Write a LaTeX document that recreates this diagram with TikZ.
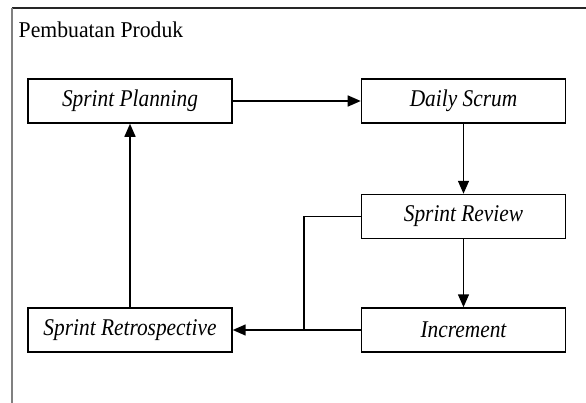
\documentclass[tikz,border=0pt]{standalone}
\usepackage{fontspec}
\setmainfont{Liberation Serif}
\usetikzlibrary{arrows.meta,positioning}

\begin{document}
\begin{tikzpicture}[->,>={Triangle[length=6.5pt,width=5.5pt]},x=0.5pt,y=-0.5pt,
                    line width=0.75pt]
  \tikzset{phase/.style={draw=black,fill=white,text=black,minimum width=102pt,
                         minimum height=22pt,inner sep=0pt,
                         font=\fontsize{12}{14}\selectfont\itshape\addfontfeature{FakeStretch=0.89}}}
  \useasboundingbox (0,0) rectangle (586,403);

  % frame of the activity
  \draw[-,black!85,line width=0.6pt] (12,8) -- (586,8);
  \draw[-,black!50,line width=0.9pt] (12,8) -- (12,403);
  \node[anchor=base west,inner sep=0pt,
        font=\fontsize{11.3}{13}\selectfont\addfontfeature{FakeStretch=0.96}]
    (title) at (18,37) {Pembuatan Produk};

  \node[phase] (P) at (130,101)                         {Sprint Planning};
  \node[phase] (D) [right=64pt of P]                    {Daily Scrum};
  \node[phase] (R) [below=35pt of D]                    {Sprint Review};
  \node[phase] (I) [below=34pt of R]                    {Increment};
  \node[phase] (T) [left=64pt of I]                     {Sprint Retrospective};

  \path (I.west) ++(-28.5pt,0) coordinate (J);

  \draw (P) -- (D);
  \draw (D) -- (R);
  \draw (R) -- (I);
  \draw (I) -- (T);
  \draw[-,line width=0.8pt] (R.west) -| (J);
  \draw (T) -- (P);
\end{tikzpicture}
\end{document}
